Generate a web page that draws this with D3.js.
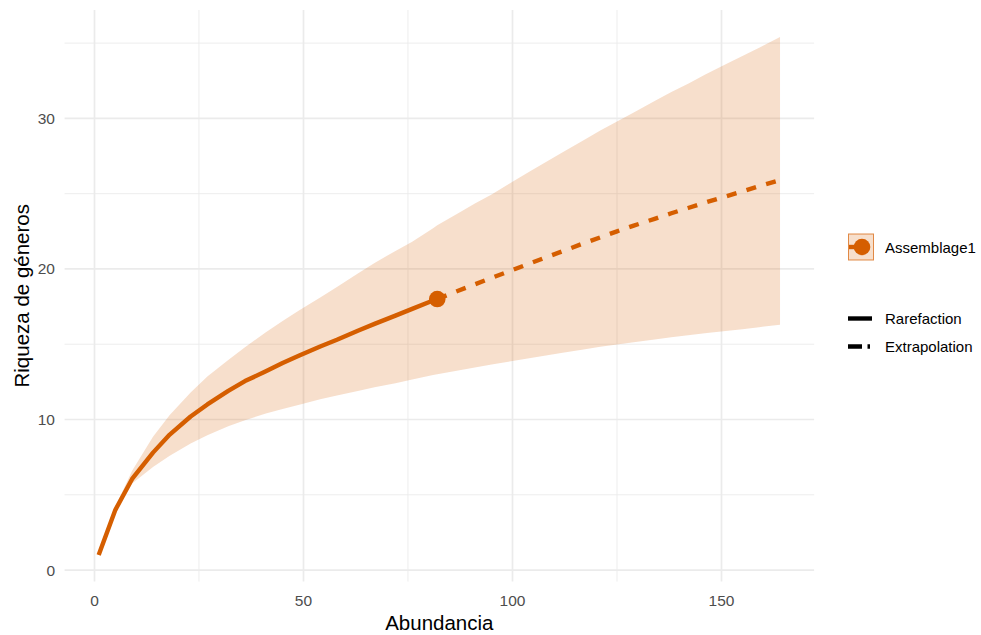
<!DOCTYPE html>
<html>
<head>
<meta charset="utf-8">
<script src="https://cdn.jsdelivr.net/npm/d3@7"></script>
<style>
  body { margin: 0; background: #fff; }
  text { font-family: "Liberation Sans", Arial, sans-serif; }
</style>
</head>
<body>
<svg id="chart" width="981" height="635"></svg>
<script>
// ---- Data ----
const rarefactionM  = [1, 5, 9, 14, 18, 23, 27, 32, 36, 41, 45, 49, 54, 58, 63, 67, 72, 76, 81, 82];
const rarefactionS  = [1.0, 4.0, 6.05, 7.8, 9.0, 10.2, 11.0, 11.9, 12.55, 13.2, 13.75, 14.25, 14.85, 15.3, 15.9, 16.35, 16.9, 17.35, 17.9, 18.0];
const rarefactionLo = [1.0, 3.85, 5.75, 6.85, 7.6, 8.4, 8.95, 9.55, 9.95, 10.4, 10.7, 10.98, 11.35, 11.6, 11.9, 12.15, 12.4, 12.65, 12.95, 13.0];
const rarefactionHi = [1.0, 4.2, 6.6, 8.85, 10.3, 11.8, 12.85, 13.95, 14.8, 15.8, 16.55, 17.25, 18.1, 18.8, 19.7, 20.4, 21.2, 21.8, 22.7, 22.9];

const extrapolationM  = [82, 87, 91, 95, 100, 104, 108, 112, 117, 121, 125, 129, 134, 138, 142, 146, 151, 155, 159, 164];
const extrapolationS  = [18.0, 18.55, 18.98, 19.41, 19.93, 20.35, 20.77, 21.18, 21.7, 22.1, 22.5, 22.88, 23.33, 23.7, 24.05, 24.4, 24.82, 25.15, 25.5, 25.9];
const extrapolationLo = [13.0, 13.25, 13.45, 13.65, 13.88, 14.07, 14.25, 14.43, 14.65, 14.83, 14.98, 15.13, 15.32, 15.46, 15.6, 15.73, 15.88, 16.0, 16.13, 16.3];
const extrapolationHi = [22.9, 23.7, 24.35, 24.95, 25.8, 26.45, 27.1, 27.75, 28.55, 29.2, 29.8, 30.4, 31.15, 31.75, 32.3, 32.9, 33.6, 34.15, 34.7, 35.4];

const observedM = [82];
const observedS = [18];

const xTicks = [0, 50, 100, 150];
const xMinor = [25, 75, 125];
const yTicks = [0, 10, 20, 30];
const yMinor = [5, 15, 25, 35];

const assemblageName = "Assemblage1";
const methodLabels = ["Rarefaction", "Extrapolation"];
const xTitle = "Abundancia";
const yTitle = "Riqueza de géneros";

// ---- Build ----
const col = "#D55E00";
const svg = d3.select("#chart");
const x = d3.scaleLinear().domain([-7.15, 172.15]).range([64.6, 814.1]);
const y = d3.scaleLinear().domain([-0.76, 37.2]).range([581.5, 10]);
const [x0, x1] = x.range();
const [yb, yt] = y.range();

const grid = svg.append("g");
grid.selectAll(".ymin").data(yMinor).join("line")
  .attr("x1", x0).attr("x2", x1).attr("y1", d => y(d)).attr("y2", d => y(d))
  .attr("stroke", "#EBEBEB").attr("stroke-width", 0.9);
grid.selectAll(".xmin").data(xMinor).join("line")
  .attr("y1", yb).attr("y2", yt).attr("x1", d => x(d)).attr("x2", d => x(d))
  .attr("stroke", "#EBEBEB").attr("stroke-width", 0.9);
grid.selectAll(".ymaj").data(yTicks).join("line")
  .attr("x1", x0).attr("x2", x1).attr("y1", d => y(d)).attr("y2", d => y(d))
  .attr("stroke", "#EBEBEB").attr("stroke-width", 1.7);
grid.selectAll(".xmaj").data(xTicks).join("line")
  .attr("y1", yb).attr("y2", yt).attr("x1", d => x(d)).attr("x2", d => x(d))
  .attr("stroke", "#EBEBEB").attr("stroke-width", 1.7);

// Ribbon
const allM = rarefactionM.concat(extrapolationM.slice(1));
const allLo = rarefactionLo.concat(extrapolationLo.slice(1));
const allHi = rarefactionHi.concat(extrapolationHi.slice(1));
const band = allM.map((m, i) => ({ m, lo: allLo[i], hi: allHi[i] }));
svg.append("path").datum(band)
  .attr("d", d3.area().x(d => x(d.m)).y0(d => y(d.lo)).y1(d => y(d.hi)))
  .attr("fill", col).attr("fill-opacity", 0.2);

// Lines
const rar = rarefactionM.map((m, i) => ({ m, s: rarefactionS[i] }));
const ext = extrapolationM.map((m, i) => ({ m, s: extrapolationS[i] }));
const line = d3.line().x(d => x(d.m)).y(d => y(d.s));
svg.append("path").datum(rar).attr("d", line)
  .attr("fill", "none").attr("stroke", col).attr("stroke-width", 4.4)
  .attr("stroke-linejoin", "round");
svg.append("path").datum(ext).attr("d", line)
  .attr("fill", "none").attr("stroke", col).attr("stroke-width", 4.4)
  .attr("stroke-dasharray", "10,10.5");

// Observed point
svg.selectAll(".obs").data(observedM).join("circle")
  .attr("cx", d => x(d)).attr("cy", (d, i) => y(observedS[i])).attr("r", 8.3)
  .attr("fill", col);

// Axes labels
const tickCol = "#4D4D4D";
svg.selectAll(".xt").data(xTicks).join("text")
  .attr("x", d => x(d)).attr("y", 606).attr("text-anchor", "middle")
  .attr("font-size", 15.5).attr("fill", tickCol).text(d => d);
svg.selectAll(".yt").data(yTicks).join("text")
  .attr("x", 55).attr("y", d => y(d) + 5.5).attr("text-anchor", "end")
  .attr("font-size", 15.5).attr("fill", tickCol).text(d => d);

svg.append("text").attr("x", (x0 + x1) / 2).attr("y", 630).attr("text-anchor", "middle")
  .attr("font-size", 20.5).attr("fill", "#000").text(xTitle);
svg.append("text").attr("transform", `translate(29,${(yb + yt) / 2}) rotate(-90)`)
  .attr("text-anchor", "middle").attr("font-size", 20.5).attr("fill", "#000").text(yTitle);

// Legend: assemblage
const lg = svg.append("g");
lg.append("rect").attr("x", 848.5).attr("y", 234).attr("width", 25).attr("height", 26)
  .attr("fill", col).attr("fill-opacity", 0.2)
  .attr("stroke", col).attr("stroke-opacity", 0.7).attr("stroke-width", 1);
lg.append("line").attr("x1", 849).attr("x2", 862).attr("y1", 247).attr("y2", 247)
  .attr("stroke", col).attr("stroke-width", 4.4);
lg.append("circle").attr("cx", 862).attr("cy", 247).attr("r", 8.3).attr("fill", col);
lg.append("text").attr("x", 885).attr("y", 252.5).attr("font-size", 15).attr("fill", "#000").text(assemblageName);

// Legend: method
const keyY = [318.5, 346.5];
lg.selectAll(".mk").data(methodLabels).join("line")
  .attr("x1", 848).attr("x2", 872).attr("y1", (d, i) => keyY[i]).attr("y2", (d, i) => keyY[i])
  .attr("stroke", "#000").attr("stroke-width", 4.4)
  .attr("stroke-dasharray", (d, i) => i === 0 ? null : "14,5.5,2.5,100");
lg.selectAll(".mt").data(methodLabels).join("text")
  .attr("x", 885).attr("y", (d, i) => keyY[i] + 5.5).attr("font-size", 15).attr("fill", "#000").text(d => d);
</script>
</body>
</html>
